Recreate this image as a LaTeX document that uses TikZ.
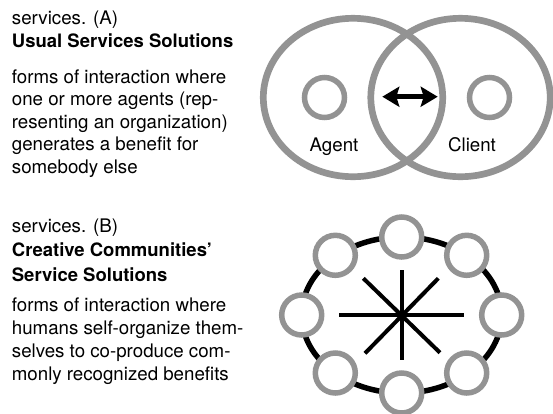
\documentclass[tikz,border=0pt]{standalone}
\usepackage{fontspec}
\setmainfont{TeX Gyre Heros}
\usetikzlibrary{arrows.meta}
\definecolor{ringgray}{HTML}{939393}
\begin{document}
\begin{tikzpicture}[x=1pt,y=-1pt,
  txt/.style={anchor=base west,inner sep=0pt,font=\fontsize{18.7}{22}\selectfont},
  ttl/.style={txt,font=\fontsize{18.5}{22}\selectfont\bfseries},
  bigring/.style={draw=ringgray,line width=6.7pt},
  smallring/.style={draw=ringgray,line width=5.5pt,fill=white,circle,minimum size=40pt,inner sep=0pt},
  ringtxt/.style={anchor=base,inner sep=0pt,font=\fontsize{18.7}{22}\selectfont},
  spoke/.style={line width=4pt,black},
  bighead/.tip={Stealth[length=17pt,width=20pt,inset=3pt]}]
\useasboundingbox (0,0) rectangle (553,413);
% ---- text (A)
\node[txt] (a1) at (11.7,24) {services. (A)};
\node[ttl] (a2) at (11.7,47) {Usual Services Solutions};
\node[txt] (a3) at (11.7,83) {forms of interaction where};
\node[txt] (a4) at (11.7,105.5) {one or more agents (rep-};
\node[txt] (a5) at (11.7,128) {resenting an organization)};
\node[txt] (a6) at (11.7,150.5) {generates a benefit for};
\node[txt] (a7) at (11.7,173) {somebody else};
% ---- text (B)
\node[txt] (b1) at (11.7,232) {services. (B)};
\node[ttl] (b2) at (11.7,256) {Creative Communities’};
\node[ttl] (b3) at (11.7,281) {Service Solutions};
\node[txt] (b4) at (11.7,311) {forms of interaction where};
\node[txt] (b5) at (11.7,334) {humans self-organize them-};
\node[txt] (b6) at (11.7,357) {selves to co-produce com-};
\node[txt] (b7) at (11.7,380) {monly recognized benefits};
% ---- diagram (A)
\draw[bigring] (353,97.5) ellipse [x radius=89.7, y radius=79.2];
\draw[bigring] (460.5,97.5) ellipse [x radius=89.7, y radius=79.2];
\node[smallring] (agent) at (324.5,97.5) {};
\node[smallring] (client) at (489.5,97.5) {};
\node[ringtxt] (agentlbl) at (334,151) {Agent};
\node[ringtxt] (clientlbl) at (472,151) {Client};
\coordinate (al) at (382.3,96.7);
\coordinate (ar) at (437.7,96.7);
\draw[line width=4.5pt,bighead-bighead] (al) -- (ar);
% ---- diagram (B)
\draw[line width=5.5pt] (401.7,315) ellipse [x radius=100, y radius=78];
\coordinate (c) at (401.7,315);
\coordinate (sN) at (401.7,270); \coordinate (sS) at (401.7,360);
\coordinate (sW) at (339,315); \coordinate (sE) at (464,315);
\coordinate (sNW) at (363.3,278.3); \coordinate (sSE) at (440,352.7);
\coordinate (sNE) at (438.3,278.3); \coordinate (sSW) at (365,353.3);
\draw[spoke] (sN) -- (sS);
\draw[spoke] (sW) -- (sE);
\draw[spoke] (sNW) -- (sSE);
\draw[spoke] (sNE) -- (sSW);
\node[smallring] (m1) at (401.7,237) {};
\node[smallring] (m2) at (335.3,255.3) {};
\node[smallring] (m3) at (466.7,255.3) {};
\node[smallring] (m4) at (301.7,315) {};
\node[smallring] (m5) at (501.7,315) {};
\node[smallring] (m6) at (335.3,373) {};
\node[smallring] (m7) at (466.7,373) {};
\node[smallring] (m8) at (401.7,393) {};
\end{tikzpicture}
\end{document}
